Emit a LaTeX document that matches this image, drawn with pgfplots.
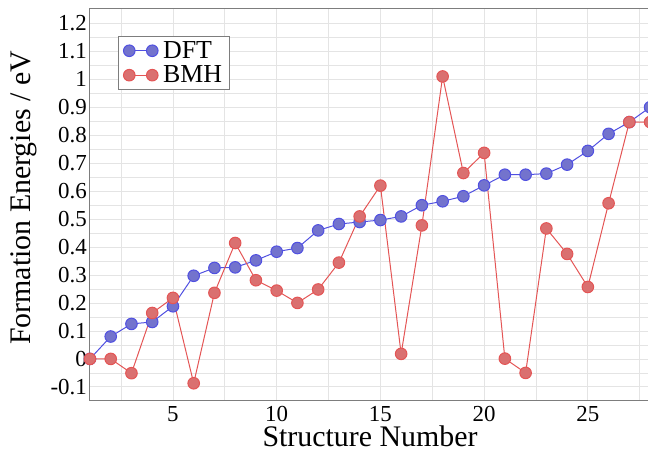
\documentclass[border=0pt]{standalone}
\usepackage{pgfplots}
\pgfplotsset{compat=1.18}
\usepackage{fontspec}
\setmainfont{Liberation Serif}
\definecolor{dftline}{RGB}{80,80,225}
\definecolor{dftfill}{RGB}{115,115,205}
\definecolor{bmhline}{RGB}{228,85,85}
\definecolor{bmhfill}{RGB}{218,112,112}
\definecolor{gridc}{RGB}{228,228,228}
\definecolor{framec}{RGB}{125,125,125}
\begin{document}
\begin{tikzpicture}
\begin{axis}[
  name=ax,
  scale only axis,
  width=560.25bp, height=392bp,
  xmin=1, xmax=28, ymin=-0.15, ymax=1.25,
  xtick={5,10,15,20,25},
  minor xtick={2.5,7.5,12.5,17.5,22.5,27.5},
  ytick={-0.1,0,0.1,0.2,0.3,0.4,0.5,0.6,0.7,0.8,0.9,1,1.1,1.2},
  yticklabels={-0.1,0,0.1,0.2,0.3,0.4,0.5,0.6,0.7,0.8,0.9,1,1.1,1.2},
  minor ytick={-0.05,0.05,0.15,0.25,0.35,0.45,0.55,0.65,0.75,0.85,0.95,1.05,1.15},
  grid=both,
  major grid style={gridc, line width=0.8bp},
  minor grid style={gridc, line width=0.8bp},
  major tick length=0pt, minor tick length=0pt,
  axis line style={framec, line width=1bp},
  /pgf/number format/assume math mode=true,
  tick label style={font=\fontsize{23}{23}\selectfont, inner sep=1bp},
  xticklabel style={yshift=-4bp, text depth=0pt},
  yticklabel style={xshift=-2bp},
  label style={font=\fontsize{30}{30}\selectfont},
  xlabel={Structure Number},
  ylabel={Formation Energies / eV},
  xlabel style={at={(axis description cs:0.5,0)}, anchor=north, inner sep=0pt, text height=20bp, text depth=0pt, yshift=-25bp},
  ylabel style={at={(axis description cs:-0.0946,0.518)}, anchor=south, inner sep=0pt, rotate=0},
  legend style={at={(axis description cs:0.05,0.931)}, anchor=north west,
    draw=framec, line width=1bp, font=\fontsize{26}{26}\selectfont,
    inner xsep=5bp, inner ysep=3bp, row sep=2bp, column sep=3bp, cells={anchor=west}},
  legend image code/.code={\draw[#1] plot coordinates {(0bp,0bp) (23bp,0bp)};},
  every axis plot/.append style={line width=1bp},
]
\addplot[color=dftline, mark=*, mark size=5.8bp, mark options={fill=dftfill, draw=dftline, line width=1bp}]
coordinates {
(1,0) (2,0.08) (3,0.125) (4,0.132) (5,0.188) (6,0.297) (7,0.325) (8,0.327)
(9,0.352) (10,0.383) (11,0.396) (12,0.459) (13,0.482) (14,0.489) (15,0.496)
(16,0.509) (17,0.549) (18,0.563) (19,0.581) (20,0.620) (21,0.658) (22,0.658)
(23,0.662) (24,0.694) (25,0.743) (26,0.804) (27,0.846) (28,0.899)
};
\addlegendentry{DFT}
\addplot[color=bmhline, mark=*, mark size=5.8bp, mark options={fill=bmhfill, draw=bmhline, line width=1bp}]
coordinates {
(1,0) (2,0) (3,-0.051) (4,0.164) (5,0.218) (6,-0.087) (7,0.236) (8,0.414)
(9,0.281) (10,0.244) (11,0.200) (12,0.248) (13,0.344) (14,0.509) (15,0.619)
(16,0.018) (17,0.477) (18,1.009) (19,0.664) (20,0.736) (21,0.001) (22,-0.050)
(23,0.466) (24,0.375) (25,0.257) (26,0.556) (27,0.846) (28,0.846)
};
\addlegendentry{BMH}
\coordinate (cutne) at (axis cs:27.9,1.25);
\end{axis}
\pgfresetboundingbox
\path[use as bounding box] ([xshift=-90bp,yshift=-51bp]ax.south west) rectangle ([yshift=9bp]cutne);
\end{tikzpicture}
\end{document}
